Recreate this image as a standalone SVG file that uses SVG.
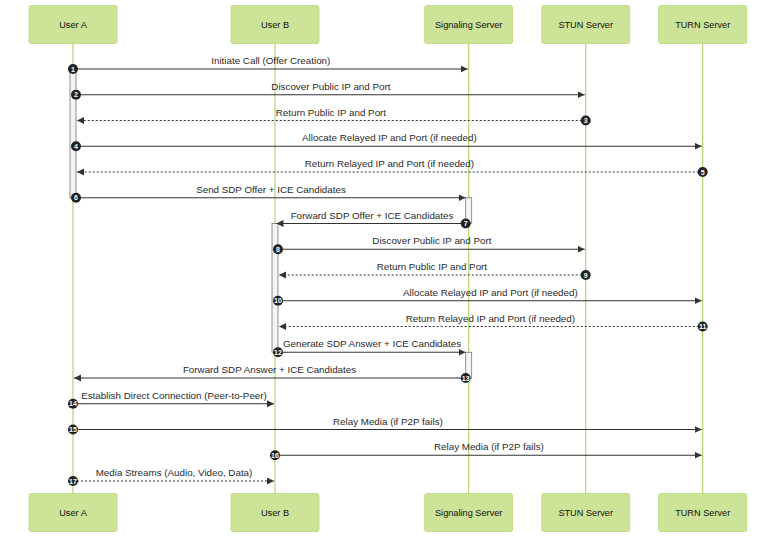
<svg xmlns="http://www.w3.org/2000/svg" width="784" height="544" viewBox="0 0 784 544">
<style>
.actor rect{fill:#cde498;stroke:#c2dd88;stroke-width:1}
.actor text{font-family:"Liberation Sans",Arial,sans-serif;font-size:9.2px;fill:#111;text-anchor:middle;dominant-baseline:central}
.life{stroke:#b3d672;stroke-width:1.2}
.act{fill:#f4f4f4;stroke:#777;stroke-width:0.8}
.msg{stroke:#333;stroke-width:1.1;fill:none}
.dash{stroke-dasharray:2,2}
.lbl{font-family:"Liberation Sans",Arial,sans-serif;font-size:9.8px;fill:#2a2a2a;text-anchor:middle}
.num circle{fill:#222}
.num text{font-family:"Liberation Sans",Arial,sans-serif;font-size:7px;font-weight:bold;fill:#fff;text-anchor:middle;dominant-baseline:central}
</style>
<defs>
<marker id="ah" markerUnits="userSpaceOnUse" markerWidth="8" markerHeight="8" refX="7" refY="3.5" orient="auto">
<path d="M0,0 L7,3.5 L0,7 z" fill="#333"/>
</marker>
</defs>
<g id="lifelines">
<line class="life" x1="73" y1="44" x2="73" y2="493"/>
<line class="life" x1="275" y1="44" x2="275" y2="493"/>
<line class="life" x1="468.7" y1="44" x2="468.7" y2="493"/>
<line class="life" x1="585.7" y1="44" x2="585.7" y2="493"/>
<line class="life" x1="702.7" y1="44" x2="702.7" y2="493"/>
</g>
<g id="actor-userA-top" class="actor"><rect x="29" y="5.5" width="88" height="38" rx="2"/><text x="73" y="25">User A</text></g>
<g id="actor-userB-top" class="actor"><rect x="231" y="5.5" width="88" height="38" rx="2"/><text x="275" y="25">User B</text></g>
<g id="actor-signaling-top" class="actor"><rect x="424.7" y="5.5" width="88" height="38" rx="2"/><text x="468.7" y="25">Signaling Server</text></g>
<g id="actor-stun-top" class="actor"><rect x="541.7" y="5.5" width="88" height="38" rx="2"/><text x="585.7" y="25">STUN Server</text></g>
<g id="actor-turn-top" class="actor"><rect x="658.7" y="5.5" width="88" height="38" rx="2"/><text x="702.7" y="25">TURN Server</text></g>
<g id="actor-userA-bottom" class="actor"><rect x="29" y="493.5" width="88" height="38" rx="2"/><text x="73" y="513">User A</text></g>
<g id="actor-userB-bottom" class="actor"><rect x="231" y="493.5" width="88" height="38" rx="2"/><text x="275" y="513">User B</text></g>
<g id="actor-signaling-bottom" class="actor"><rect x="424.7" y="493.5" width="88" height="38" rx="2"/><text x="468.7" y="513">Signaling Server</text></g>
<g id="actor-stun-bottom" class="actor"><rect x="541.7" y="493.5" width="88" height="38" rx="2"/><text x="585.7" y="513">STUN Server</text></g>
<g id="actor-turn-bottom" class="actor"><rect x="658.7" y="493.5" width="88" height="38" rx="2"/><text x="702.7" y="513">TURN Server</text></g>
<g id="activations">
<rect class="act" x="70" y="69" width="6" height="129"/>
<rect class="act" x="272" y="223.5" width="6" height="128.75"/>
<rect class="act" x="465.7" y="197.75" width="6" height="25.75"/>
<rect class="act" x="465.7" y="352.25" width="6" height="25.75"/>
</g>
<g id="connectors">
<line class="msg" x1="73" y1="69" x2="467.7" y2="69" marker-end="url(#ah)"/>
<text class="lbl" x="270.8" y="64">Initiate Call (Offer Creation)</text>
<line class="msg" x1="76" y1="94.75" x2="584.7" y2="94.75" marker-end="url(#ah)"/>
<text class="lbl" x="330.9" y="89.75">Discover Public IP and Port</text>
<line class="msg dash" x1="585.7" y1="120.5" x2="77" y2="120.5" marker-end="url(#ah)"/>
<text class="lbl" x="330.9" y="115.5">Return Public IP and Port</text>
<line class="msg" x1="76" y1="146.25" x2="701.7" y2="146.25" marker-end="url(#ah)"/>
<text class="lbl" x="389.4" y="141.25">Allocate Relayed IP and Port (if needed)</text>
<line class="msg dash" x1="702.7" y1="172" x2="77" y2="172" marker-end="url(#ah)"/>
<text class="lbl" x="389.4" y="167">Return Relayed IP and Port (if needed)</text>
<line class="msg" x1="76" y1="197.75" x2="465.5" y2="197.75" marker-end="url(#ah)"/>
<text class="lbl" x="271" y="192.75">Send SDP Offer + ICE Candidates</text>
<line class="msg" x1="465.7" y1="223.5" x2="276.5" y2="223.5" marker-end="url(#ah)"/>
<text class="lbl" x="372" y="218.5">Forward SDP Offer + ICE Candidates</text>
<line class="msg" x1="278" y1="249.25" x2="584.7" y2="249.25" marker-end="url(#ah)"/>
<text class="lbl" x="431.9" y="244.25">Discover Public IP and Port</text>
<line class="msg dash" x1="585.7" y1="275" x2="279" y2="275" marker-end="url(#ah)"/>
<text class="lbl" x="431.9" y="270">Return Public IP and Port</text>
<line class="msg" x1="278" y1="300.75" x2="701.7" y2="300.75" marker-end="url(#ah)"/>
<text class="lbl" x="490.4" y="295.75">Allocate Relayed IP and Port (if needed)</text>
<line class="msg dash" x1="702.7" y1="326.5" x2="279" y2="326.5" marker-end="url(#ah)"/>
<text class="lbl" x="490.4" y="321.5">Return Relayed IP and Port (if needed)</text>
<line class="msg" x1="278" y1="352.25" x2="465.5" y2="352.25" marker-end="url(#ah)"/>
<text class="lbl" x="372" y="347.25">Generate SDP Answer + ICE Candidates</text>
<line class="msg" x1="465.7" y1="378" x2="74" y2="378" marker-end="url(#ah)"/>
<text class="lbl" x="269.5" y="373">Forward SDP Answer + ICE Candidates</text>
<line class="msg" x1="73" y1="403.75" x2="274" y2="403.75" marker-end="url(#ah)"/>
<text class="lbl" x="174" y="398.75">Establish Direct Connection (Peer-to-Peer)</text>
<line class="msg" x1="73" y1="429.5" x2="701.7" y2="429.5" marker-end="url(#ah)"/>
<text class="lbl" x="387.9" y="424.5">Relay Media (if P2P fails)</text>
<line class="msg" x1="275" y1="455.25" x2="701.7" y2="455.25" marker-end="url(#ah)"/>
<text class="lbl" x="488.9" y="450.25">Relay Media (if P2P fails)</text>
<line class="msg dash" x1="73" y1="481" x2="274" y2="481" marker-end="url(#ah)"/>
<text class="lbl" x="174" y="476">Media Streams (Audio, Video, Data)</text>
</g>
<g id="sequence-numbers" class="num">
<circle cx="73" cy="69" r="5"/><text x="73" y="69">1</text>
<circle cx="76" cy="94.75" r="5"/><text x="76" y="94.75">2</text>
<circle cx="585.7" cy="120.5" r="5"/><text x="585.7" y="120.5">3</text>
<circle cx="76" cy="146.25" r="5"/><text x="76" y="146.25">4</text>
<circle cx="702.7" cy="172" r="5"/><text x="702.7" y="172">5</text>
<circle cx="76" cy="197.75" r="5"/><text x="76" y="197.75">6</text>
<circle cx="465.7" cy="223.5" r="5"/><text x="465.7" y="223.5">7</text>
<circle cx="278" cy="249.25" r="5"/><text x="278" y="249.25">8</text>
<circle cx="585.7" cy="275" r="5"/><text x="585.7" y="275">9</text>
<circle cx="278" cy="300.75" r="5"/><text x="278" y="300.75">10</text>
<circle cx="702.7" cy="326.5" r="5"/><text x="702.7" y="326.5">11</text>
<circle cx="278" cy="352.25" r="5"/><text x="278" y="352.25">12</text>
<circle cx="465.7" cy="378" r="5"/><text x="465.7" y="378">13</text>
<circle cx="73" cy="403.75" r="5"/><text x="73" y="403.75">14</text>
<circle cx="73" cy="429.5" r="5"/><text x="73" y="429.5">15</text>
<circle cx="275" cy="455.25" r="5"/><text x="275" y="455.25">16</text>
<circle cx="73" cy="481" r="5"/><text x="73" y="481">17</text>
</g>
</svg>
